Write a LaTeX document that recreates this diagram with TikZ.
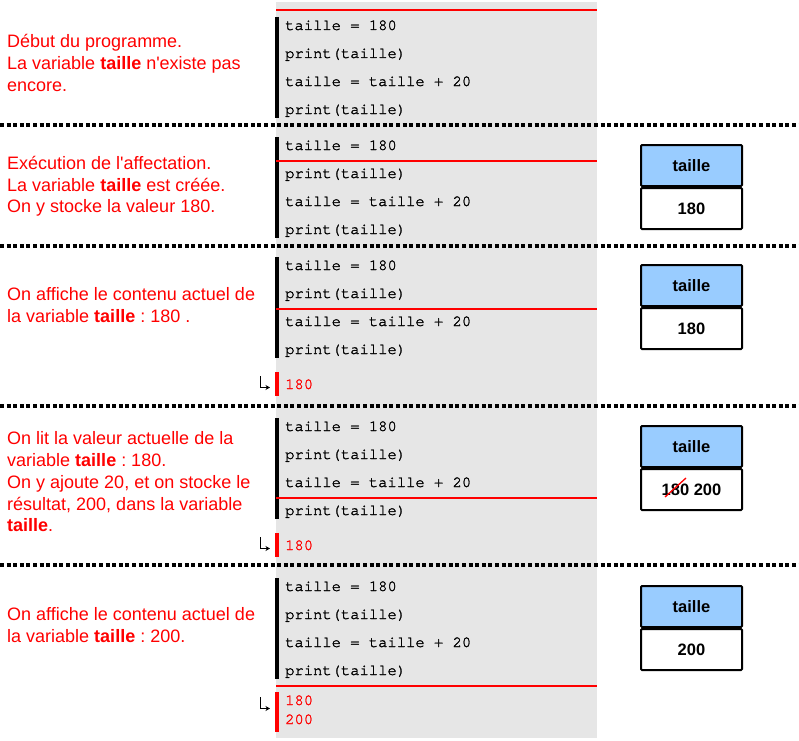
\documentclass[tikz,border=0pt]{standalone}
\usepackage{fontspec}
\setmainfont{Liberation Sans}
\setmonofont{TeX Gyre Cursor}[FakeBold=1.6]
\usetikzlibrary{arrows.meta}
\definecolor{codegray}{HTML}{E6E6E6}
\definecolor{hdrblue}{HTML}{99CCFF}
\newcommand\straightapos{\XeTeXglyph\XeTeXcharglyph"27\relax}
\frenchspacing
\begin{document}
\begin{tikzpicture}[x=1bp,y=-1bp,
  expl/.style={anchor=base west,inner sep=0pt,text=red,font=\fontsize{18bp}{21bp}\selectfont},
  code/.style={anchor=base west,inner sep=0pt,font=\fontsize{15.5bp}{18bp}\ttfamily},
  outp/.style={code,text=red},
  cell/.style={draw=black,line width=2bp,rounded corners=1bp,minimum width=101bp,minimum height=41bp,inner sep=0pt,font=\fontsize{16.5bp}{20bp}\bfseries},
  hdr/.style={cell,fill=hdrblue},
  val/.style={cell,fill=white},
  sep/.style={line width=4bp,dash pattern=on 4bp off 2.6bp},
  curline/.style={red,line width=2bp},
  bar/.style={line width=4bp},
  outarrow/.style={line width=1.3bp,-{Stealth[length=4.5bp,width=5bp]}}]
\useasboundingbox (0,0) rectangle (799,741);
% gray code background
\fill[codegray] (276,2) rectangle (597,738);
% ---------- section 1 ----------
\node[expl] (t1a) at (7,47.5) {Début du programme.};
\node[expl] (t1b) at (7,69.5) {La variable \textbf{taille} n\straightapos existe pas};
\node[expl] (t1c) at (7,91.5) {encore.};
\draw[bar] (276.7,17) -- (276.7,118);
\node[code] (c1a) at (285,30) {taille = 180};
\node[code] (c1b) at (285,58) {print(taille)};
\node[code] (c1c) at (285,86) {taille = taille + 20};
\node[code] (c1d) at (285,114) {print(taille)};
\draw[curline] (276,10) -- (597,10);
\draw[sep] (0,125) -- (799,125);
% ---------- section 2 ----------
\node[expl] (t2a) at (7,169.5) {Exécution de l\straightapos affectation.};
\node[expl] (t2b) at (7,191) {La variable \textbf{taille} est créée.};
\node[expl] (t2c) at (7,212.5) {On y stocke la valeur 180.};
\draw[bar] (276.7,137) -- (276.7,238);
\node[code] (c2a) at (285,150) {taille = 180};
\node[code] (c2b) at (285,178) {print(taille)};
\node[code] (c2c) at (285,206) {taille = taille + 20};
\node[code] (c2d) at (285,234) {print(taille)};
\draw[curline] (276,161) -- (597,161);
\node[hdr] (h2) at (691.5,165.5) {taille};
\node[val,anchor=north] (v2) at (h2.south) {180};
\draw[sep] (0,245.5) -- (799,245.5);
% ---------- section 3 ----------
\node[expl] (t3a) at (7,300) {On affiche le contenu actuel de};
\node[expl] (t3b) at (7,322) {la variable \textbf{taille} : 180 .};
\draw[bar] (276.7,257) -- (276.7,358);
\node[code] (c3a) at (285,270) {taille = 180};
\node[code] (c3b) at (285,298) {print(taille)};
\node[code] (c3c) at (285,326) {taille = taille + 20};
\node[code] (c3d) at (285,354) {print(taille)};
\draw[curline] (276,309) -- (597,309);
\node[hdr] (h3) at (691.5,285.5) {taille};
\node[val,anchor=north] (v3) at (h3.south) {180};
\draw[red,bar] (276.7,372) -- (276.7,396);
\node[outp] (o3) at (285,389) {180};
\coordinate (a3s) at (260.5,376);
\coordinate (a3e) at (270,387.5);
\draw[outarrow] (a3s) |- (a3e);
\draw[sep] (0,405.5) -- (799,405.5);
% ---------- section 4 ----------
\node[expl] (t4a) at (7,444.3) {On lit la valeur actuelle de la};
\node[expl] (t4b) at (7,466) {variable \textbf{taille} : 180.};
\node[expl] (t4c) at (7,488) {On y ajoute 20, et on stocke le};
\node[expl] (t4d) at (7,510) {résultat, 200, dans la variable};
\node[expl] (t4e) at (7,531.7) {\textbf{taille}.};
\draw[bar] (276.7,418) -- (276.7,519);
\node[code] (c4a) at (285,431) {taille = 180};
\node[code] (c4b) at (285,459) {print(taille)};
\node[code] (c4c) at (285,487) {taille = taille + 20};
\node[code] (c4d) at (285,515) {print(taille)};
\draw[curline] (276,497.5) -- (597,497.5);
\node[hdr] (h4) at (691.5,446.5) {taille};
\node[val,anchor=north] (v4) at (h4.south) {180 200};
\draw[red,line width=1.3bp] (665,497) -- (686,478);
\draw[red,bar] (276.7,533) -- (276.7,557);
\node[outp] (o4) at (285,550) {180};
\coordinate (a4s) at (260.5,537);
\coordinate (a4e) at (270,548.5);
\draw[outarrow] (a4s) |- (a4e);
\draw[sep] (0,565) -- (799,565);
% ---------- section 5 ----------
\node[expl] (t5a) at (7,620) {On affiche le contenu actuel de};
\node[expl] (t5b) at (7,642.3) {la variable \textbf{taille} : 200.};
\draw[bar] (276.7,578) -- (276.7,679);
\node[code] (c5a) at (285,591) {taille = 180};
\node[code] (c5b) at (285,619) {print(taille)};
\node[code] (c5c) at (285,647) {taille = taille + 20};
\node[code] (c5d) at (285,675) {print(taille)};
\draw[curline] (276,686) -- (597,686);
\node[hdr] (h5) at (691.5,606.5) {taille};
\node[val,anchor=north] (v5) at (h5.south) {200};
\draw[red,bar] (276.7,692) -- (276.7,732);
\node[outp] (o5a) at (285,705) {180};
\node[outp] (o5b) at (285,724) {200};
\coordinate (a5s) at (260.5,697);
\coordinate (a5e) at (270,708.5);
\draw[outarrow] (a5s) |- (a5e);
\end{tikzpicture}
\end{document}
